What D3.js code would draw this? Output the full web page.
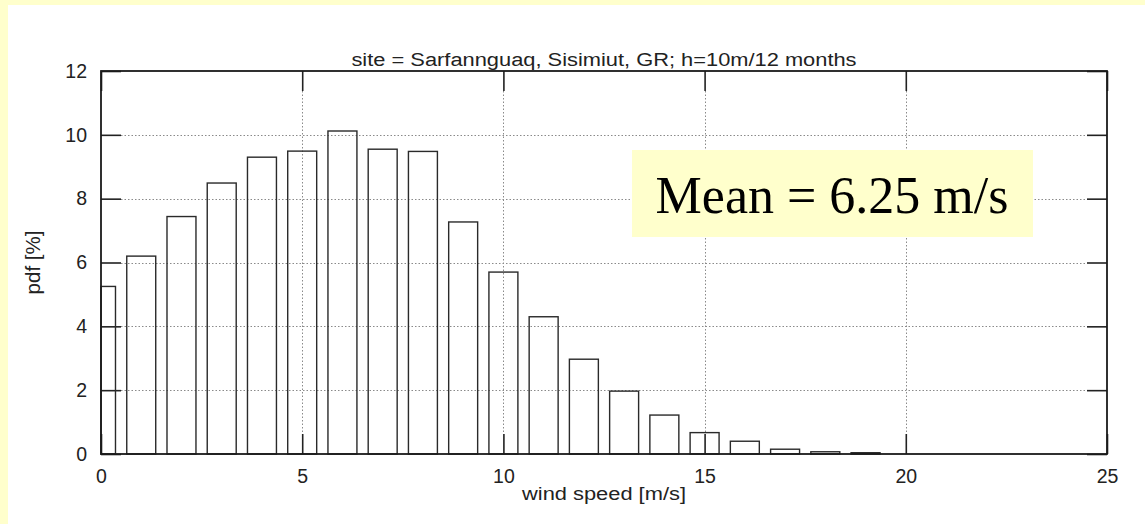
<!DOCTYPE html>
<html>
<head>
<meta charset="utf-8">
<script src="https://cdn.jsdelivr.net/npm/d3@7"></script>
<style>
  html, body { margin: 0; padding: 0; background: #FFFFCC; }
  svg { display: block; }
</style>
</head>
<body>
<svg id="chart" width="1145" height="524"></svg>
<script>
// ---- data ----
const binCenters = [0, 1, 2, 3, 4, 5, 6, 7, 8, 9, 10, 11, 12, 13, 14, 15, 16, 17, 18, 19];
const pdfValues  = [5.25, 6.2, 7.44, 8.49, 9.3, 9.49, 10.12, 9.55, 9.48, 7.27, 5.7, 4.3, 2.97, 1.97, 1.22, 0.67, 0.40, 0.15, 0.07, 0.04];
const xTicks = [0, 5, 10, 15, 20, 25];
const yTicks = [0, 2, 4, 6, 8, 10, 12];
const titleText = "site = Sarfannguaq, Sisimiut, GR; h=10m/12 months";
const xLabel = "wind speed [m/s]";
const yLabel = "pdf [%]";
const meanText = "Mean = 6.25 m/s";
const barWidth = 0.72;

const svg = d3.select("#chart");
const W = 1145, H = 524;
const L = 101, R = 1107, T = 71, B = 454;
const tickLen = 20;

// white panel on yellow background
svg.append("rect").attr("x", 8).attr("y", 5).attr("width", W - 8).attr("height", H - 5).attr("fill", "#ffffff");

const x = d3.scaleLinear().domain([0, 25]).range([L, R]);
const y = d3.scaleLinear().domain([0, 12]).range([B, T]);

const font = "'Liberation Sans', Arial, Helvetica, sans-serif";

// grid lines (dotted)
const grid = svg.append("g").attr("stroke", "#8a8a8a").attr("stroke-width", 1).attr("stroke-dasharray", "1.5,2");
grid.selectAll("line.h").data(yTicks.filter(d => d > 0 && d < 12)).enter().append("line")
  .attr("x1", L + tickLen).attr("x2", R - tickLen)
  .attr("y1", d => Math.round(y(d)) + 0.5).attr("y2", d => Math.round(y(d)) + 0.5);
grid.selectAll("line.v").data(xTicks.filter(d => d > 0 && d < 25)).enter().append("line")
  .attr("y1", T + tickLen).attr("y2", B - tickLen)
  .attr("x1", d => Math.round(x(d)) + 0.5).attr("x2", d => Math.round(x(d)) + 0.5);

// axes via d3 (inward ticks)
const axisStyle = g => {
  g.select(".domain").remove();
  g.selectAll(".tick line").attr("stroke", "#222").attr("stroke-width", 1.6);
  g.selectAll(".tick text").attr("fill", "#222").attr("font-family", font).attr("font-size", 19.5);
};
svg.append("g").attr("transform", `translate(0,${B})`)
  .call(d3.axisBottom(x).tickValues(xTicks).tickSizeInner(-tickLen).tickSizeOuter(0).tickPadding(15).tickFormat(d3.format("d")))
  .call(axisStyle);
svg.append("g").attr("transform", `translate(0,${T})`)
  .call(d3.axisTop(x).tickValues(xTicks).tickSizeInner(-tickLen).tickSizeOuter(0).tickFormat(""))
  .call(axisStyle);
svg.append("g").attr("transform", `translate(${L},0)`)
  .call(d3.axisLeft(y).tickValues(yTicks).tickSizeInner(-tickLen).tickSizeOuter(0).tickPadding(14).tickFormat(d3.format("d")))
  .call(axisStyle);
svg.append("g").attr("transform", `translate(${R},0)`)
  .call(d3.axisRight(y).tickValues(yTicks).tickSizeInner(-tickLen).tickSizeOuter(0).tickFormat(""))
  .call(axisStyle);

// bars (unfilled)
svg.append("g").selectAll("rect").data(binCenters).enter().append("rect")
  .attr("x", (d) => x(Math.max(0, d - barWidth / 2)))
  .attr("width", (d) => x(d + barWidth / 2) - x(Math.max(0, d - barWidth / 2)))
  .attr("y", (d, i) => y(pdfValues[i]))
  .attr("height", (d, i) => y(0) - y(pdfValues[i]))
  .attr("fill", "none").attr("stroke", "#2a2a2a").attr("stroke-width", 1.4);

// frame
svg.append("rect").attr("x", L).attr("y", T).attr("width", R - L).attr("height", B - T)
  .attr("fill", "none").attr("stroke", "#1a1a1a").attr("stroke-width", 1.8);

// title
svg.append("text").attr("transform", `translate(${(L + R) / 2},66) scale(1.15,1)`).attr("text-anchor", "middle")
  .attr("font-family", font).attr("font-size", 19).attr("fill", "#222").text(titleText);

// axis labels
svg.append("text").attr("transform", `translate(${(L + R) / 2},500) scale(1.15,1)`).attr("text-anchor", "middle")
  .attr("font-family", font).attr("font-size", 19).attr("fill", "#222").text(xLabel);
svg.append("text").attr("transform", `translate(40,${(T + B) / 2}) rotate(-90)`).attr("text-anchor", "middle")
  .attr("font-family", font).attr("font-size", 20.5).attr("fill", "#222").text(yLabel);

// mean annotation box
svg.append("rect").attr("x", 632).attr("y", 150).attr("width", 401).attr("height", 87).attr("fill", "#FFFFCC");
svg.append("text").attr("x", 832).attr("y", 213).attr("text-anchor", "middle")
  .attr("font-family", "'Liberation Serif', 'Times New Roman', serif").attr("font-size", 52).attr("fill", "#000").text(meanText);
</script>
</body>
</html>
